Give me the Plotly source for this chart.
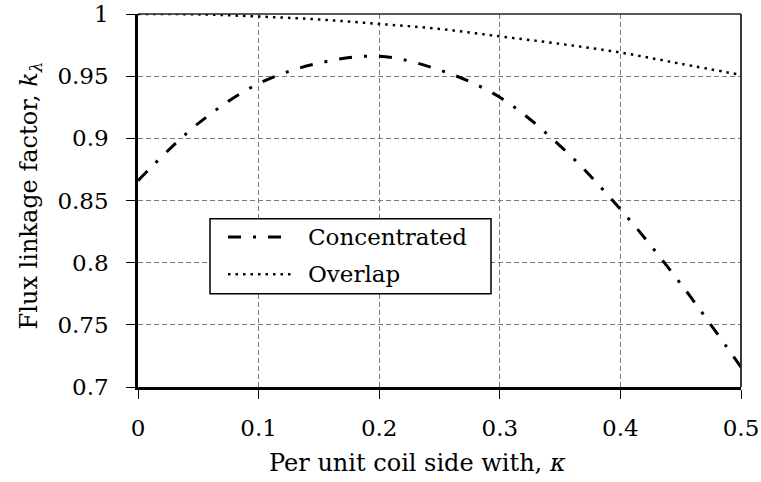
import plotly.graph_objects as go

# Data
kappa = [0.0, 0.05, 0.10, 0.15, 0.20, 0.25, 0.30, 0.35, 0.40, 0.45, 0.50]
concentrated = [0.866, 0.912, 0.944, 0.9605, 0.966, 0.955, 0.933, 0.894, 0.843, 0.783, 0.716]
overlap = [1.0, 0.9997, 0.998, 0.9956, 0.992, 0.988, 0.982, 0.976, 0.969, 0.960, 0.951]
series_names = ["Concentrated", "Overlap"]
x_ticks = [0, 0.1, 0.2, 0.3, 0.4, 0.5]
x_tick_text = ["0", "0.1", "0.2", "0.3", "0.4", "0.5"]
y_ticks = [0.7, 0.75, 0.8, 0.85, 0.9, 0.95, 1.0]
y_tick_text = ["0.7", "0.75", "0.8", "0.85", "0.9", "0.95", "1"]

W, H = 761, 482
L, R, T, B = 138, 20, 13.5, 95.3
pw, ph = W - L - R, H - T - B

def px2paper(x, y):
    return (x - L) / pw, (H - B - y) / ph

FONT = "DejaVu Serif"
dash_conc = "13px,12px,3px,12px"
dash_over = "2.5px,5px"

fig = go.Figure()
fig.add_trace(go.Scatter(x=kappa, y=concentrated, mode="lines", name=series_names[0],
                         line=dict(color="black", width=3, dash=dash_conc, shape="spline"),
                         showlegend=False))
fig.add_trace(go.Scatter(x=kappa, y=overlap, mode="lines", name=series_names[1],
                         line=dict(color="black", width=2.5, dash=dash_over, shape="spline"),
                         showlegend=False))

axis_common = dict(showgrid=True, gridcolor="#7a7a7a", gridwidth=1, griddash="5px,3px",
                   zeroline=False, showline=True, linecolor="black", linewidth=2.5,
                   ticks="outside", ticklen=9, tickwidth=1, tickcolor="black", automargin=False,
                   tickfont=dict(family=FONT, size=23, color="black"))

fig.update_xaxes(range=[0, 0.5], tickvals=x_ticks, ticktext=x_tick_text,
                 ticklabelstandoff=10, **axis_common)
fig.update_yaxes(range=[0.7, 1.0], tickvals=y_ticks, ticktext=y_tick_text,
                 ticklabelstandoff=13, **axis_common)

shapes = []
shapes.append(dict(type="line", xref="paper", yref="paper", x0=0, x1=1, y0=1, y1=1,
                   line=dict(color="#222", width=1.5)))
shapes.append(dict(type="line", xref="paper", yref="paper", x0=1, x1=1, y0=0, y1=1,
                   line=dict(color="#222", width=1.8)))
bx0, by0 = px2paper(210, 218.3)
bx1, by1 = px2paper(491, 293.3)
shapes.append(dict(type="rect", xref="paper", yref="paper", x0=bx0, x1=bx1, y0=by1, y1=by0,
                   line=dict(color="black", width=1.5), fillcolor="white", layer="above"))
annotations = []
legend_rows = [(236.7, dash_conc, 3), (274.0, dash_over, 2.5)]
for name, (yy, dsh, wd) in zip(series_names, legend_rows):
    lx0, ly = px2paper(228, yy)
    lx1, _ = px2paper(293, yy)
    shapes.append(dict(type="line", xref="paper", yref="paper", x0=lx0, x1=lx1, y0=ly, y1=ly,
                       line=dict(color="black", width=wd, dash=dsh), layer="above"))
    tx, ty = px2paper(306, yy)
    annotations.append(dict(text=name, xref="paper", yref="paper", x=tx, y=ty,
                            xanchor="left", yanchor="middle", showarrow=False,
                            font=dict(family=FONT, size=23, color="black")))

ax, ay = px2paper(417, 463)
annotations.append(dict(text="Per unit coil side with, <i>κ</i>", xref="paper", yref="paper",
                        x=ax, y=ay, xanchor="center", yanchor="middle", showarrow=False,
                        font=dict(family=FONT, size=24, color="black")))
yx, yy_ = px2paper(30, 195)
annotations.append(dict(text="Flux linkage factor, <i>k</i><sub><i>λ</i></sub>", xref="paper", yref="paper",
                        x=yx, y=yy_, xanchor="center", yanchor="middle", showarrow=False,
                        textangle=-90, font=dict(family=FONT, size=24, color="black")))

fig.update_layout(width=W, height=H, margin=dict(l=L, r=R, t=T, b=B, pad=0, autoexpand=False),
                  plot_bgcolor="white", paper_bgcolor="white",
                  shapes=shapes, annotations=annotations, showlegend=False)

fig.write_html("out.html")
